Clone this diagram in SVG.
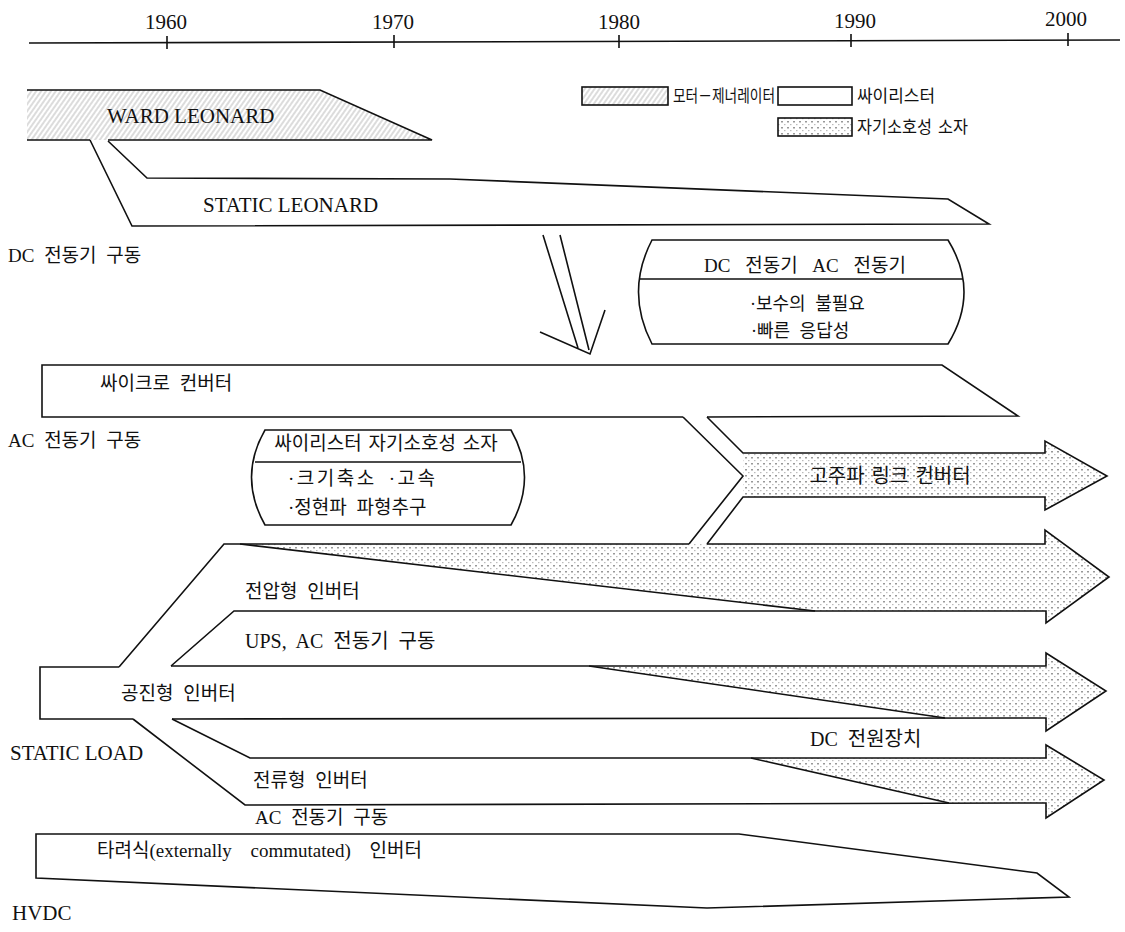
<svg xmlns="http://www.w3.org/2000/svg" width="1125" height="932" viewBox="0 0 1125 932">
<defs>
<pattern id="hatch" width="4" height="4" patternUnits="userSpaceOnUse" patternTransform="rotate(35)">
<line x1="2" y1="0" x2="2" y2="4" stroke="#9a9a9a" stroke-width="0.7"/>
</pattern>
<pattern id="dots" width="6" height="6" patternUnits="userSpaceOnUse">
<rect x="1" y="1" width="2" height="1.5" fill="#999"/>
<rect x="4" y="4" width="1.5" height="1.2" fill="#bbb"/>
</pattern>
</defs>
<style>
.ln{fill:none;stroke:#111;stroke-width:1.6;stroke-linejoin:miter}
.t{font-family:'Liberation Serif','Noto Sans CJK KR',serif;fill:#111;font-size:19px;word-spacing:5px}
.e{font-size:21px;word-spacing:0}
.y{font-size:21px;text-anchor:middle}
.g{font-size:17px;word-spacing:2px}
.h{fill:url(#hatch);stroke:none}
.d{fill:url(#dots);stroke:none}
</style>
<rect width="1125" height="932" fill="#fff"/>

<g id="timeline">
<path class="ln" d="M29,43 L1120,40"/>
<path class="ln" d="M167,36 V49 M394,35 V48 M619,35 V48 M851,34 V47 M1068,33 V46"/>
<text class="t y" x="166" y="29">1960</text>
<text class="t y" x="393" y="29">1970</text>
<text class="t y" x="619" y="29">1980</text>
<text class="t y" x="855" y="28">1990</text>
<text class="t y" x="1066" y="26">2000</text>
</g>

<g id="legend">
<rect class="h" x="582" y="87" width="86" height="18"/>
<rect class="ln" x="582" y="87" width="86" height="18"/>
<text class="t g" x="673" y="102" textLength="102" lengthAdjust="spacingAndGlyphs">모터－제너레이터</text>
<rect class="ln" x="778" y="87" width="74" height="18"/>
<text class="t g" x="857" y="102" textLength="78" lengthAdjust="spacingAndGlyphs">싸이리스터</text>
<rect class="d" x="778" y="118" width="74" height="18"/>
<rect class="ln" x="778" y="118" width="74" height="18"/>
<text class="t g" x="857" y="133" textLength="111" lengthAdjust="spacingAndGlyphs">자기소호성 소자</text>
</g>

<g id="ward-leonard">
<polygon class="h" points="27,90 320,90 432,140 27,140"/>
<path class="ln" d="M27,90 L320,90 L432,140 L108,140 M90,140 L27,140"/>
<text class="t e" x="107" y="123">WARD LEONARD</text>
</g>

<g id="static-leonard">
<path class="ln" d="M90,140 L132,226 L989,224 L948,199 L450,179 L147,178 L108,141"/>
<text class="t e" x="203" y="212">STATIC LEONARD</text>
<text class="t" x="8" y="262">DC 전동기 구동</text>
</g>

<g id="transition-arrow">
<path class="ln" d="M543,235 L578,348 M560,235 L589,350 M540,332 L590,354 L605,310"/>
</g>

<g id="box-dc-ac">
<path class="ln" d="M652,240 L948,240 Q980,292 948,344 L652,344 Q625,292 652,240 Z M640,279 H963"/>
<text class="t" x="805" y="272" text-anchor="middle" style="word-spacing:10px">DC 전동기 AC 전동기</text>
<text class="t" x="750" y="310" style="font-size:18px">·보수의 불필요</text>
<text class="t" x="751" y="337" style="font-size:18px">·빠른 응답성</text>
</g>

<g id="cycloconverter">
<path class="ln" d="M683,417 L42,417 L42,365 L942,365 L1018,416 L707,417"/>
<text class="t" x="100" y="390">싸이크로 컨버터</text>
<text class="t" x="8" y="447">AC 전동기 구동</text>
</g>

<g id="box-thyristor">
<path class="ln" d="M265,430 L511,430 Q538,477 511,525 L265,525 Q238,477 265,430 Z M255,462 H521"/>
<text class="t" x="386" y="450" text-anchor="middle" style="word-spacing:2px">싸이리스터 자기소호성 소자</text>
<text class="t" x="288" y="485" textLength="147">·크기축소 ·고속</text>
<text class="t" x="288" y="514">·정현파 파형추구</text>
</g>

<g id="hf-link">
<polygon class="d" points="743,453 1045,453 1045,441 1107,476 1045,510 1045,497 743,497"/>
<path class="ln" d="M683,417 L743,476 L689,544 M707,417 L743,453 L1045,453 L1045,441 L1107,476 L1045,510 L1045,497 L743,497 L707,544"/>
<text class="t" x="890" y="483" text-anchor="middle" style="font-size:20px;word-spacing:2px">고주파 링크 컨버터</text>
</g>

<g id="static-load">
<path class="ln" d="M119,667 L40,667 L40,719 L133,719"/>
<text class="t e" x="10" y="760">STATIC LOAD</text>
</g>

<g id="voltage-inverter">
<polygon class="d" points="240,544 1045,544 1045,530 1109,577 1046,623 1046,611 815,611"/>
<path class="ln" d="M119,667 L224,544 L689,544 M707,544 L1045,544 L1045,530 L1109,577 L1046,623 L1046,611 L234,611 L171,666"/>
<path class="ln" d="M240,544 L815,611"/>
<text class="t" x="245" y="598">전압형 인버터</text>
<text class="t" x="245" y="648" style="font-size:20px">UPS, AC 전동기 구동</text>
</g>

<g id="resonant-inverter">
<polygon class="d" points="589,666 1046,666 1046,653 1106,691 1046,731 1046,718 945,718"/>
<path class="ln" d="M171,666 L1046,666 L1046,653 L1106,691 L1046,731 L1046,718 L172,719"/>
<path class="ln" d="M589,666 L945,718"/>
<text class="t" x="121" y="700">공진형 인버터</text>
<text class="t" x="810" y="746" style="font-size:20px">DC 전원장치</text>
</g>

<g id="current-inverter">
<polygon class="d" points="751,758 1046,758 1046,745 1104,780 1046,818 1046,803 949,803"/>
<path class="ln" d="M172,719 L250,758 L1046,758 L1046,745 L1104,780 L1046,818 L1046,803 L245,805 L133,719"/>
<path class="ln" d="M751,758 L949,803"/>
<text class="t" x="253" y="787">전류형 인버터</text>
<text class="t" x="255" y="824">AC 전동기 구동</text>
</g>

<g id="hvdc">
<path class="ln" d="M36,834 L739,834 L1037,873 L1069,897 L707,908 L36,878 Z"/>
<text class="t" x="97" y="857" style="word-spacing:14px">타려식(externally commutated) 인버터</text>
<text class="t e" x="12" y="920">HVDC</text>
</g>
</svg>
